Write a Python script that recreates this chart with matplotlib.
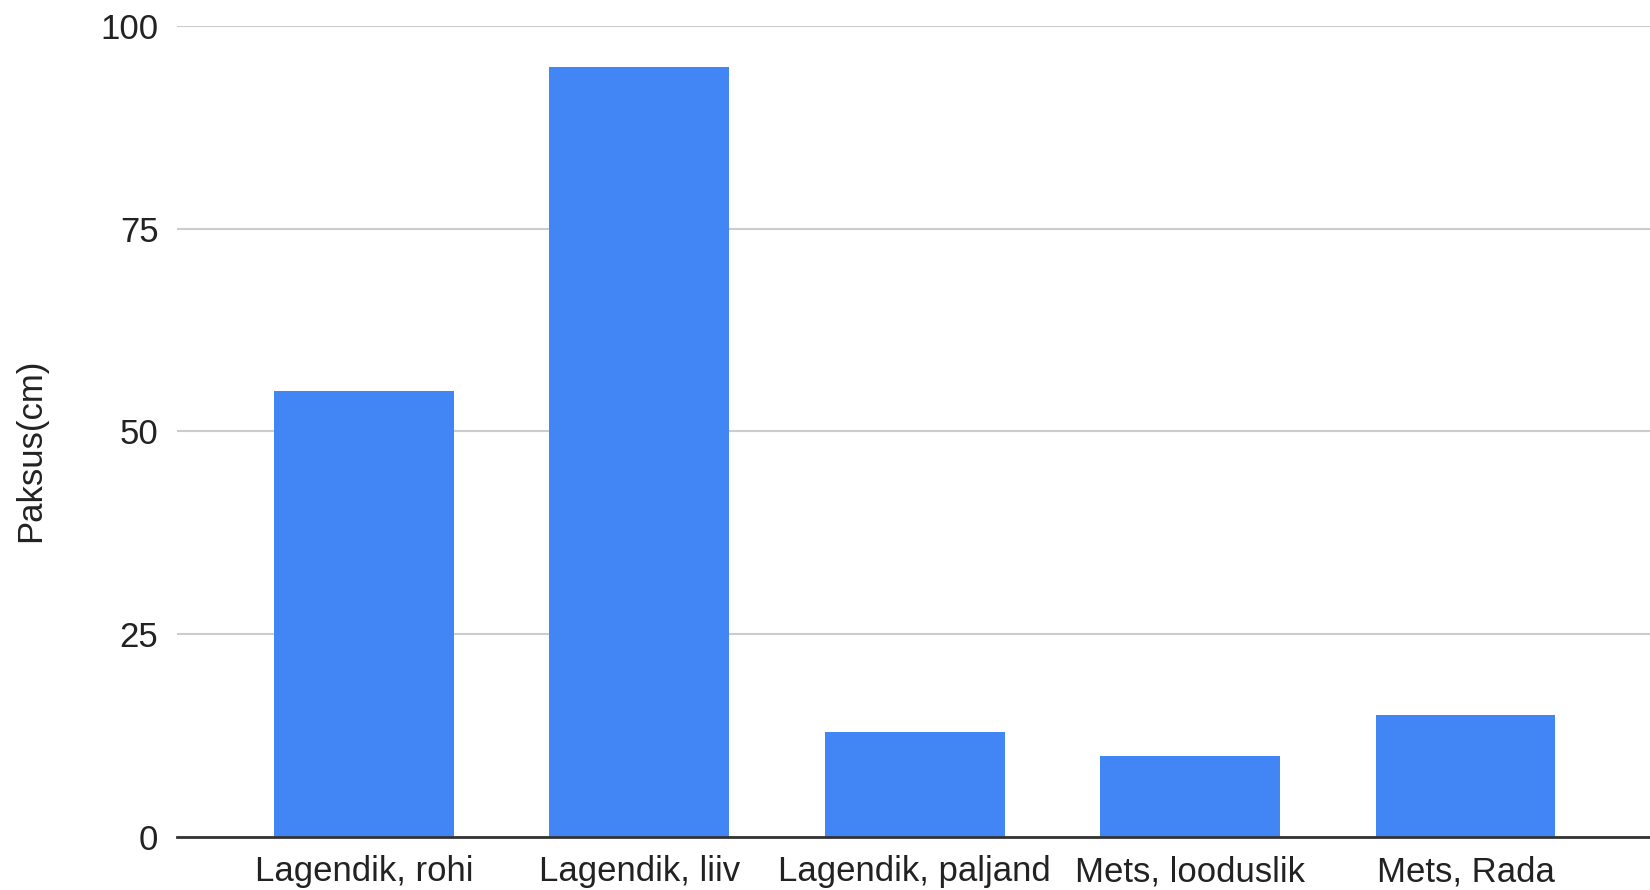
import matplotlib
matplotlib.use("Agg")
import matplotlib.pyplot as plt

categories = ["Lagendik, rohi", "Lagendik, liiv", "Lagendik, paljand", "Mets, looduslik", "Mets, Rada"]
values = [55, 95, 13, 10, 15]
yticks = [0, 25, 50, 75, 100]

plt.rcParams['font.family'] = ['Liberation Sans', 'DejaVu Sans']

fig = plt.figure(figsize=(16.5, 8.9), dpi=100)
ax = fig.add_axes([0.107, 0.0596, 0.893, 0.9112])

x = range(len(categories))
ax.bar(x, values, width=0.653, color="#4285F4", zorder=3)

ax.set_xlim(-0.68, 4.67)
ax.set_ylim(0, 100)
ax.set_yticks(yticks)
ax.set_xticks(list(x))
ax.set_xticklabels(categories)
ax.tick_params(axis="both", length=0, labelsize=25, colors="#222222")
ax.tick_params(axis="y", pad=13)
ax.tick_params(axis="x", pad=13)

ax.grid(axis="y", color="#cccccc", linewidth=1.5, zorder=0)
for s in ["top", "left", "right"]:
    ax.spines[s].set_visible(False)
ax.spines["bottom"].set_color("#333333")
ax.spines["bottom"].set_linewidth(2)
ax.spines["bottom"].set_zorder(4)

ax.set_ylabel("Paksus(cm)", fontsize=25, color="#222222")
ax.yaxis.set_label_coords(-0.088, 0.477)

fig.savefig("out.png", dpi=100, facecolor="white")
